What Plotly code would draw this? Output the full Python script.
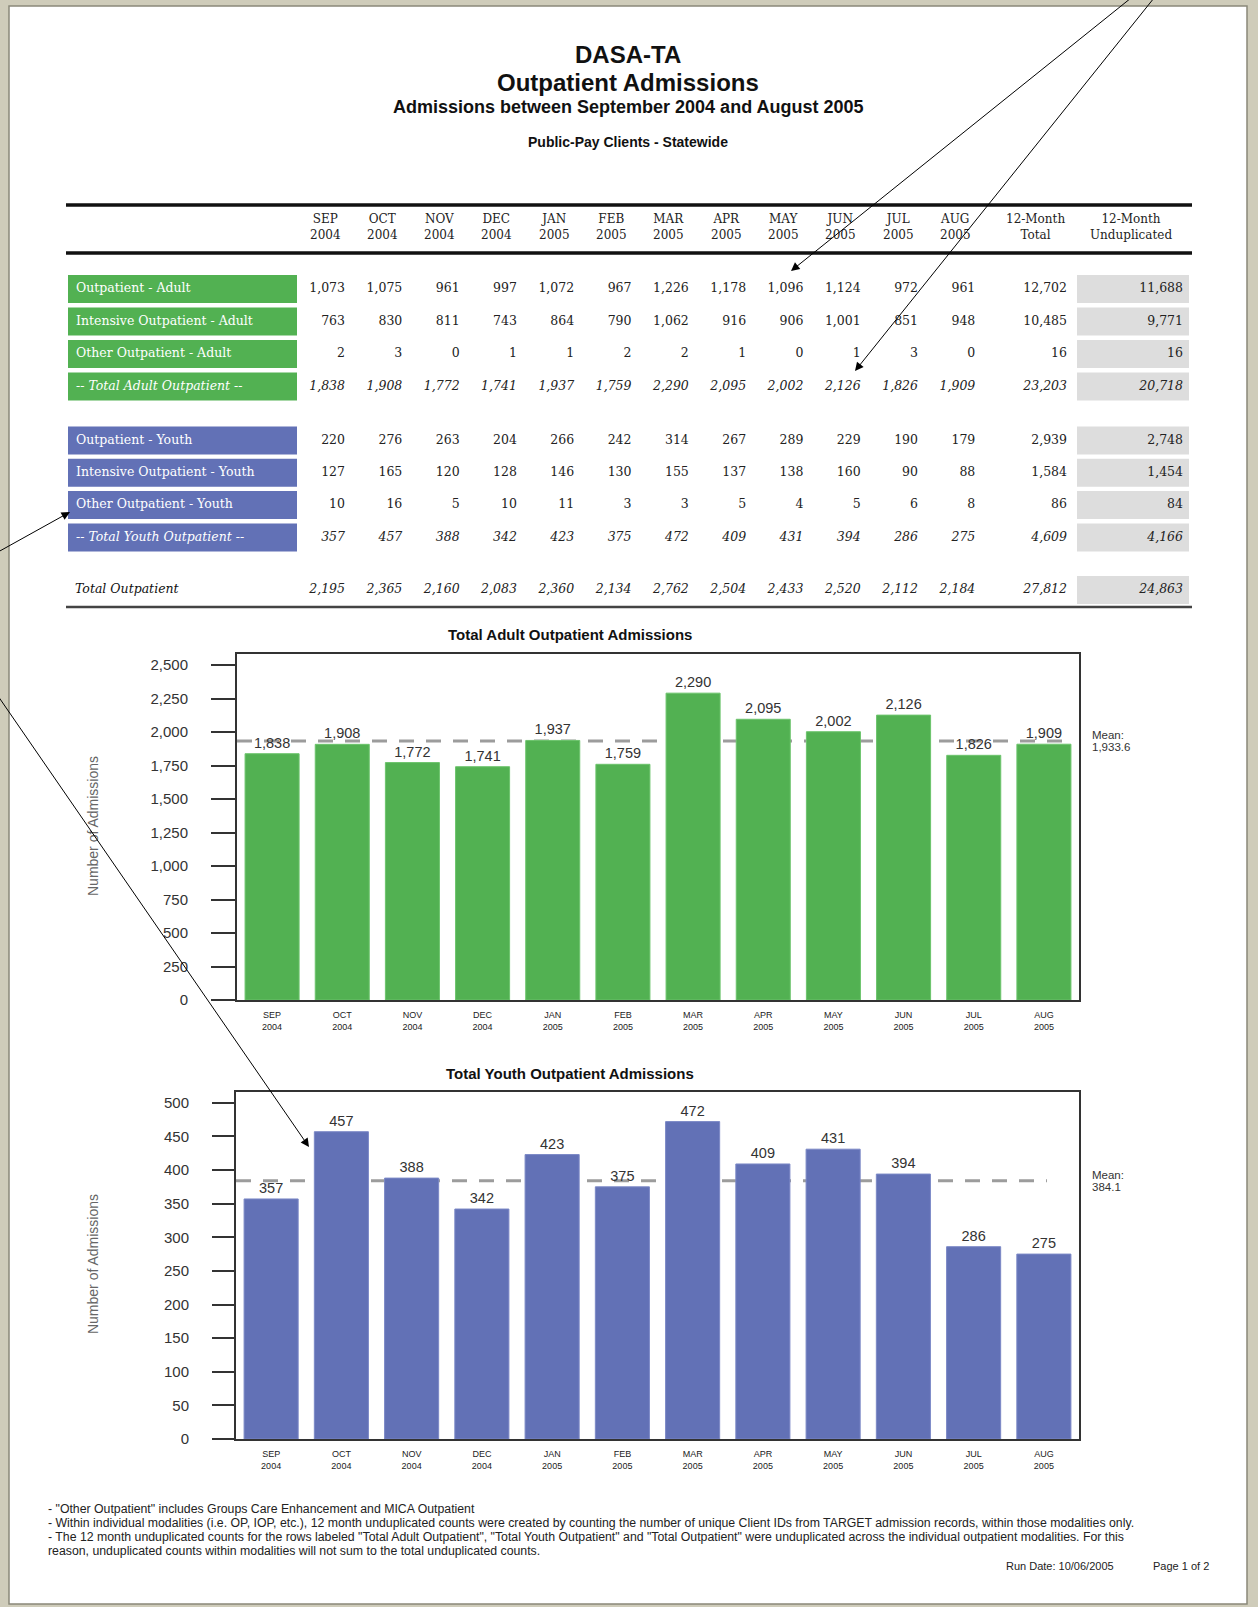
import plotly.graph_objects as go

W, H = 1258, 1615
K = 1.005  # vertical calibration of the rendered page

# ---------------- data ----------------
months = ["SEP", "OCT", "NOV", "DEC", "JAN", "FEB", "MAR", "APR", "MAY", "JUN", "JUL", "AUG"]
years = ["2004", "2004", "2004", "2004", "2005", "2005", "2005", "2005", "2005", "2005", "2005", "2005"]

adult_labels = ["Outpatient - Adult", "Intensive Outpatient - Adult",
                "Other Outpatient - Adult", "-- Total Adult Outpatient --"]
youth_labels = ["Outpatient - Youth", "Intensive Outpatient - Youth",
                "Other Outpatient - Youth", "-- Total Youth Outpatient --"]

op_adult = [1073, 1075, 961, 997, 1072, 967, 1226, 1178, 1096, 1124, 972, 961]
iop_adult = [763, 830, 811, 743, 864, 790, 1062, 916, 906, 1001, 851, 948]
other_adult = [2, 3, 0, 1, 1, 2, 2, 1, 0, 1, 3, 0]
total_adult = [1838, 1908, 1772, 1741, 1937, 1759, 2290, 2095, 2002, 2126, 1826, 1909]
adult_12m_total = [12702, 10485, 16, 23203]
adult_12m_undup = [11688, 9771, 16, 20718]

op_youth = [220, 276, 263, 204, 266, 242, 314, 267, 289, 229, 190, 179]
iop_youth = [127, 165, 120, 128, 146, 130, 155, 137, 138, 160, 90, 88]
other_youth = [10, 16, 5, 10, 11, 3, 3, 5, 4, 5, 6, 8]
total_youth = [357, 457, 388, 342, 423, 375, 472, 409, 431, 394, 286, 275]
youth_12m_total = [2939, 1584, 86, 4609]
youth_12m_undup = [2748, 1454, 84, 4166]

total_outpatient = [2195, 2365, 2160, 2083, 2360, 2134, 2762, 2504, 2433, 2520, 2112, 2184]
total_outpatient_12m = [27812]
total_outpatient_undup = [24863]

adult_ticks = [0, 250, 500, 750, 1000, 1250, 1500, 1750, 2000, 2250, 2500]
youth_ticks = [0, 50, 100, 150, 200, 250, 300, 350, 400, 450, 500]

footnotes = [
    "- \"Other Outpatient\" includes Groups Care Enhancement and MICA Outpatient",
    "- Within individual modalities (i.e. OP, IOP, etc.), 12 month unduplicated counts were created by counting the number of unique Client IDs from TARGET admission records, within those modalities only.",
    "- The 12 month unduplicated counts for the rows labeled \"Total Adult Outpatient\", \"Total Youth Outpatient\" and \"Total Outpatient\" were unduplicated across the individual outpatient modalities. For this",
    "reason, unduplicated counts within modalities will not sum to the total unduplicated counts.",
]

# ---------------- styles ----------------
GREEN = "#52B152"
BLUE = "#6271B6"
GRAY_BOX = "#DDDDDD"
SERIF = "DejaVu Serif"
SANS = "Liberation Sans, Arial"


def px(x):
    return x / W


def py(y):
    return 1 - y * K / H


cats = [f"{m}<br>{y}" for m, y in zip(months, years)]

fig = go.Figure()

# ---------------- bar charts ----------------
fig.add_trace(go.Bar(
    x=cats, y=total_adult, marker=dict(color=GREEN, line=dict(width=1, color="#6CC46C")),
    text=[f"{v:,}" for v in total_adult], textposition="outside",
    textfont=dict(family=SANS, size=14.5, color="#333"), cliponaxis=False,
    xaxis="x", yaxis="y", showlegend=False, hoverinfo="skip"))

fig.add_trace(go.Bar(
    x=cats, y=total_youth, marker=dict(color=BLUE, line=dict(width=1, color="#7B88C6")),
    text=[f"{v:,}" for v in total_youth], textposition="outside",
    textfont=dict(family=SANS, size=14.5, color="#333"), cliponaxis=False,
    xaxis="x2", yaxis="y2", showlegend=False, hoverinfo="skip"))

adult_mean = sum(total_adult) / len(total_adult)
youth_mean = sum(total_youth) / len(total_youth)

shapes = []
annotations = []

# page frame (paper-referenced, below everything)
shapes.append(dict(type="rect", xref="paper", yref="paper", x0=0, x1=1, y0=0, y1=1,
                   fillcolor="#CFCCBA", line=dict(width=0), layer="below"))
shapes.append(dict(type="rect", xref="paper", yref="paper", x0=px(9), x1=px(1247), y0=py(1604), y1=py(6),
                   fillcolor="white", line=dict(width=1.5, color="#8A887A"), layer="below"))

for ax, ref, mean, x1 in [("x", "y", adult_mean, 0.985), ("x2", "y2", youth_mean, 0.962)]:
    shapes.append(dict(type="line", xref=f"{ax} domain", yref=ref, x0=0.0, x1=x1,
                       y0=mean, y1=mean, layer="below",
                       line=dict(color="#9C9C9C", width=3, dash="15px,12px")))
    annotations.append(dict(xref="paper", yref=ref, x=px(1090), y=mean, yshift=6,
                            text="Mean:", showarrow=False, xanchor="left", yanchor="middle",
                            font=dict(family=SANS, size=11.5, color="#333")))
    annotations.append(dict(xref="paper", yref=ref, x=px(1090), y=mean, yshift=-6,
                            text=f"{mean:,.1f}", showarrow=False, xanchor="left", yanchor="middle",
                            font=dict(family=SANS, size=11.5, color="#333")))

# chart titles + axis titles
for txt, y in [("Total Adult Outpatient Admissions", 634), ("Total Youth Outpatient Admissions", 1073)]:
    annotations.append(dict(xref="paper", yref="paper", x=px(570), y=py(y), text=f"<b>{txt}</b>",
                            showarrow=False, yanchor="middle",
                            font=dict(family=SANS, size=15, color="#111")))
for y in [826, 1264]:
    annotations.append(dict(xref="paper", yref="paper", x=px(93), y=py(y), text="Number of Admissions",
                            textangle=-90, showarrow=False, xanchor="center", yanchor="middle",
                            font=dict(family=SANS, size=14, color="#666")))

# ---------------- page titles ----------------
for txt, y, size in [("DASA-TA", 54, 24), ("Outpatient Admissions", 82, 24),
                     ("Admissions between September 2004 and August 2005", 107, 18),
                     ("Public-Pay Clients - Statewide", 142, 14)]:
    annotations.append(dict(xref="paper", yref="paper", x=px(628), y=py(y), text=f"<b>{txt}</b>",
                            showarrow=False, xanchor="center", yanchor="middle",
                            font=dict(family=SANS, size=size, color="#111")))

# ---------------- table ----------------
col_right = [345 + 57.3 * i for i in range(12)] + [1067, 1183]
header_cx = [r - 20 for r in col_right[:12]] + [1035, 1131]
header_txt = [f"{m}<br>{y}" for m, y in zip(months, years)] + ["12-Month<br>Total", "12-Month<br>Unduplicated"]

for cx, t in zip(header_cx, header_txt):
    annotations.append(dict(xref="x3", yref="y3", x=cx, y=227, text=t, showarrow=False,
                            xanchor="center", yanchor="middle",
                            font=dict(family=SERIF, size=12, color="#222")))

shapes.append(dict(type="line", xref="x3", yref="y3", x0=66, x1=1192, y0=205, y1=205,
                   line=dict(color="#111", width=3.5)))
shapes.append(dict(type="line", xref="x3", yref="y3", x0=66, x1=1192, y0=253, y1=253,
                   line=dict(color="#111", width=3.5)))
shapes.append(dict(type="line", xref="x3", yref="y3", x0=66, x1=1192, y0=607, y1=607,
                   line=dict(color="#444", width=2.5)))

adult_y = [289 + 32.5 * i for i in range(4)]
youth_y = [440.5 + 32.3 * i for i in range(4)]
total_y = 590

groups = [
    (adult_labels, [op_adult, iop_adult, other_adult, total_adult], adult_12m_total, adult_12m_undup, adult_y, GREEN),
    (youth_labels, [op_youth, iop_youth, other_youth, total_youth], youth_12m_total, youth_12m_undup, youth_y, BLUE),
]


def fmt(v, italic):
    s = f"{v:,}"
    return f"<i>{s}</i>" if italic else s


for labels, rows, tots, undups, ys, color in groups:
    for i, (lab, vals, t, u, yc) in enumerate(zip(labels, rows, tots, undups, ys)):
        italic = i == 3
        shapes.append(dict(type="rect", xref="x3", yref="y3", x0=68, x1=297, y0=yc - 14, y1=yc + 14,
                           fillcolor=color, line=dict(width=0), layer="below"))
        shapes.append(dict(type="rect", xref="x3", yref="y3", x0=1077, x1=1189, y0=yc - 14, y1=yc + 14,
                           fillcolor=GRAY_BOX, line=dict(width=0), layer="below"))
        fig.add_trace(go.Scatter(
            x=[76], y=[yc], mode="text", text=[f"<i>{lab}</i>" if italic else lab],
            textposition="middle right", textfont=dict(family=SERIF, size=12.5, color="white"),
            xaxis="x3", yaxis="y3", showlegend=False, hoverinfo="skip"))
        fig.add_trace(go.Scatter(
            x=col_right, y=[yc] * 14, mode="text",
            text=[fmt(v, italic) for v in vals + [t, u]],
            textposition="middle left", textfont=dict(family=SERIF, size=12.5, color="#222"),
            xaxis="x3", yaxis="y3", showlegend=False, hoverinfo="skip"))

shapes.append(dict(type="rect", xref="x3", yref="y3", x0=1077, x1=1189, y0=total_y - 14, y1=total_y + 14,
                   fillcolor=GRAY_BOX, line=dict(width=0), layer="below"))
fig.add_trace(go.Scatter(
    x=[75], y=[total_y], mode="text", text=["<i>Total Outpatient</i>"],
    textposition="middle right", textfont=dict(family=SERIF, size=12.5, color="#111"),
    xaxis="x3", yaxis="y3", showlegend=False, hoverinfo="skip"))
fig.add_trace(go.Scatter(
    x=col_right, y=[total_y] * 14, mode="text",
    text=[fmt(v, True) for v in total_outpatient + total_outpatient_12m + total_outpatient_undup],
    textposition="middle left", textfont=dict(family=SERIF, size=12.5, color="#222"),
    xaxis="x3", yaxis="y3", showlegend=False, hoverinfo="skip"))

# ---------------- footnotes ----------------
for txt, y in zip(footnotes, [1509, 1523, 1537, 1551]):
    annotations.append(dict(xref="x3", yref="y3", x=46, y=y, text=txt, showarrow=False,
                            xanchor="left", yanchor="middle",
                            font=dict(family=SANS, size=12.3, color="#222")))
annotations.append(dict(xref="x3", yref="y3", x=1116, y=1566, text="Run Date: 10/06/2005", showarrow=False,
                        xanchor="right", yanchor="middle", font=dict(family=SANS, size=11, color="#222")))
annotations.append(dict(xref="x3", yref="y3", x=1211, y=1566, text="Page 1 of 2", showarrow=False,
                        xanchor="right", yanchor="middle", font=dict(family=SANS, size=11, color="#222")))

# ---------------- arrows ----------------
for (tx, ty), (sx, sy) in [((791, 271), (1131, -2)), ((855, 371), (1154, -2)),
                           ((70, 512), (-2, 552)), ((309, 1147), (-2, 696))]:
    annotations.append(dict(xref="x3", yref="y3", x=tx, y=ty, axref="x3", ayref="y3", ax=sx, ay=sy,
                            text="", showarrow=True, arrowhead=2, arrowsize=1.7, arrowwidth=1,
                            arrowcolor="#000", standoff=0))

axis_common = dict(showline=True, mirror=True, linecolor="#333", linewidth=2, showgrid=False, zeroline=False)

fig.update_layout(
    width=W, height=H, margin=dict(l=0, r=0, t=0, b=0),
    paper_bgcolor="white", plot_bgcolor="rgba(0,0,0,0)",
    bargap=0.23, showlegend=False,
    xaxis=dict(domain=[px(237), px(1079)], anchor="y", type="category", range=[-0.5, 11.5],
               ticks="", ticklabelstandoff=5, tickfont=dict(family=SANS, size=9, color="#222"), **axis_common),
    yaxis=dict(domain=[py(1000), py(654)], anchor="x", range=[0, 2582], tickvals=adult_ticks,
               ticktext=[f"{v:,}" for v in adult_ticks], ticks="outside", ticklen=24, tickwidth=2,
               tickcolor="#333", ticklabelstandoff=20,
               tickfont=dict(family=SANS, size=15, color="#333"), **axis_common),
    xaxis2=dict(domain=[px(236), px(1079)], anchor="y2", type="category", range=[-0.5, 11.5],
                ticks="", ticklabelstandoff=5, tickfont=dict(family=SANS, size=9, color="#222"), **axis_common),
    yaxis2=dict(domain=[py(1439), py(1092)], anchor="x2", range=[0, 516], tickvals=youth_ticks,
                ticktext=[str(v) for v in youth_ticks], ticks="outside", ticklen=22, tickwidth=2,
                tickcolor="#333", ticklabelstandoff=20,
                tickfont=dict(family=SANS, size=15, color="#333"), **axis_common),
    xaxis3=dict(domain=[0, 1], anchor="y3", range=[0, W], visible=False, fixedrange=True),
    yaxis3=dict(domain=[0, 1], anchor="x3", range=[H / K, 0], visible=False, fixedrange=True),
    shapes=shapes, annotations=annotations,
)

fig.write_html(
    "out.html", config={"displayModeBar": False},
    post_script=("document.documentElement.style.margin='0';document.documentElement.style.padding='0';"
                 "document.documentElement.style.overflow='hidden';"
                 "document.body.style.margin='0';document.body.style.padding='0';"
                 "document.body.style.background='#CFCCBA';"
                 "document.body.style.overflow='hidden';"))
